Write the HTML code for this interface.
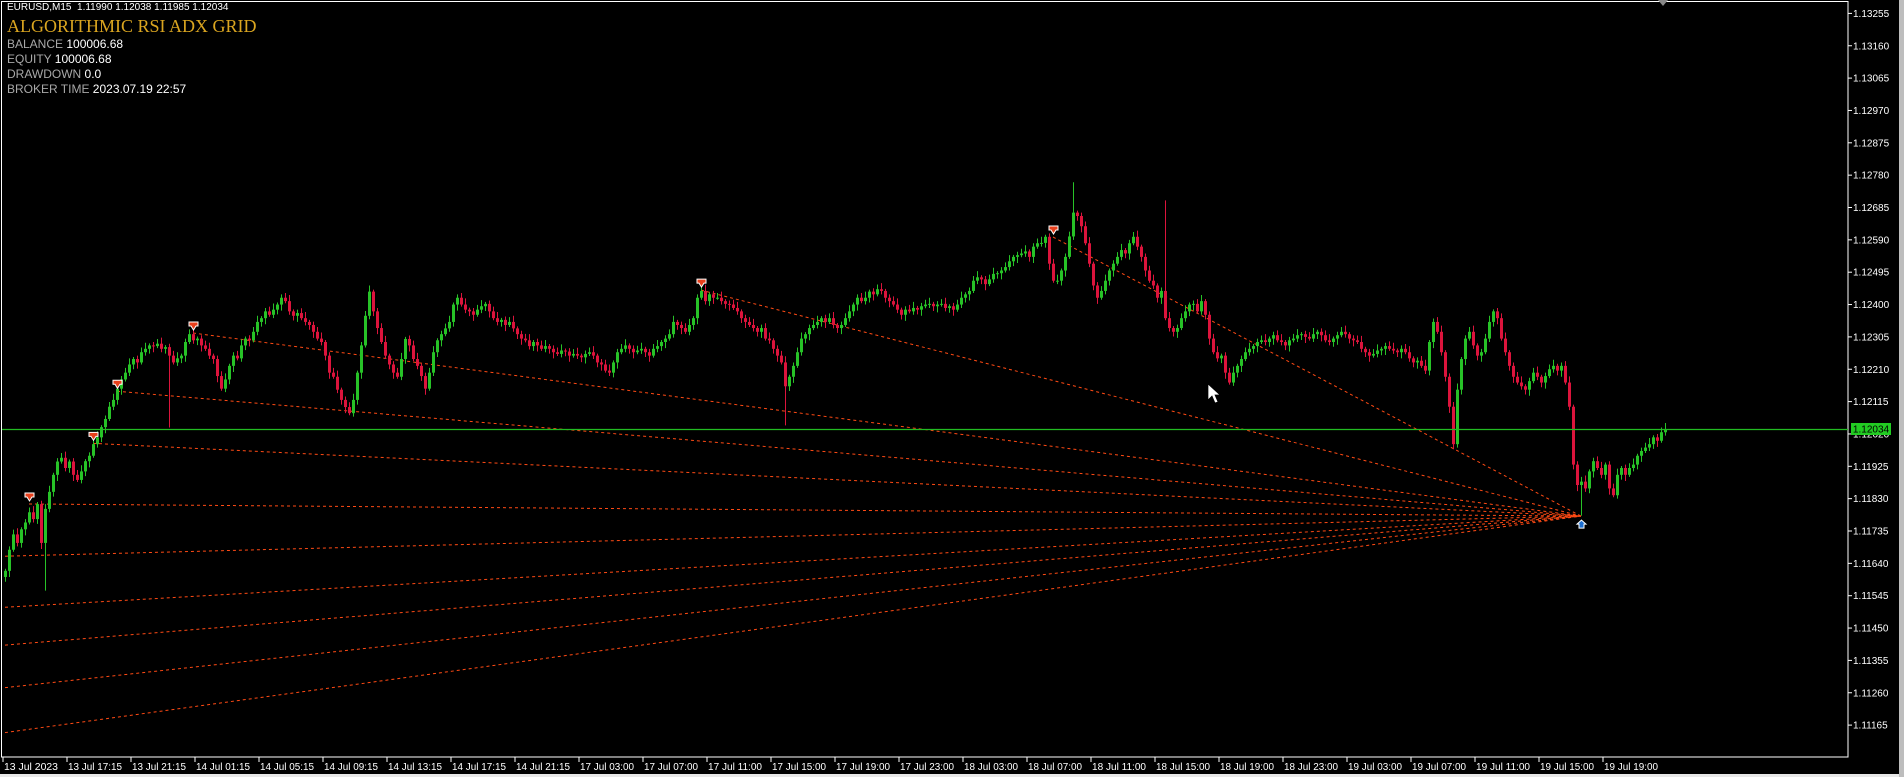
<!DOCTYPE html>
<html><head><meta charset="utf-8"><style>
html,body{margin:0;padding:0;background:#000;}
body{width:1904px;height:777px;overflow:hidden;position:relative;font-family:"Liberation Sans",sans-serif;}
.info{position:absolute;left:7px;font-size:12px;color:#a8a8a8;white-space:nowrap}
.info b{font-weight:normal;color:#fff}
</style></head><body>
<svg id="chart" width="1904" height="777" style="position:absolute;left:0;top:0">
<rect x="0" y="0" width="1904" height="777" fill="#000"/>
<rect x="1899" y="0" width="5" height="777" fill="#bdbdbd"/>
<rect x="0" y="774" width="1899" height="3" fill="#e8e8e8"/>
<rect x="1.5" y="1.5" width="1846.5" height="755.5" fill="none" stroke="#fff" stroke-width="1"/>
<polygon points="1658,0 1668,0 1663,6" fill="#888"/>
<g id="fan"></g>
<g id="candles"></g>
<line x1="2" x2="1848" y1="429.5" y2="429.5" stroke="#22bb22" stroke-width="1.2"/>
<g id="arrows"></g>
<g id="yaxis"></g>
<g id="xaxis"></g>
<rect x="1851" y="423" width="40" height="12" fill="#22cc22"/>
<text x="1871" y="432.5" font-size="10" text-anchor="middle" fill="#000" font-family="Liberation Sans">1.12034</text>
<polygon points="1208,384 1208,400 1212,396 1215,403 1218,402 1215,395 1220,395" fill="#fff" stroke="#000" stroke-width="0.7"/>
</svg>
<div class="info" style="top:2px;font-size:10px;color:#fff">EURUSD,M15&nbsp; 1.11990 1.12038 1.11985 1.12034</div>
<div class="info" style="top:16px;font-family:'Liberation Serif',serif;font-size:18px;color:#daa520">ALGORITHMIC RSI ADX GRID</div>
<div class="info" style="top:37px">BALANCE <b>100006.68</b></div>
<div class="info" style="top:52px">EQUITY <b>100006.68</b></div>
<div class="info" style="top:67px">DRAWDOWN <b>0.0</b></div>
<div class="info" style="top:82px">BROKER TIME <b>2023.07.19 22:57</b></div>
<script>
// closes in points above 1.10000 (e.g. 2034 = 1.12034)
const closes=[1618,1680,1725,1700,1740,1760,1790,1770,1814,1700,1800,1850,1900,1939,1950,1920,1939,1900,1885,1910,1940,1956,1990,2010,2040,2064,2100,2120,2153,2180,2200,2224,2240,2230,2260,2270,2280,2278,2285,2270,2275,2250,2230,2242,2250,2290,2313,2295,2300,2280,2270,2250,2240,2190,2153,2180,2220,2250,2242,2280,2300,2295,2320,2349,2360,2380,2370,2385,2400,2420,2410,2380,2367,2375,2360,2349,2340,2320,2300,2290,2250,2200,2188,2150,2120,2099,2081,2120,2200,2280,2367,2438,2380,2331,2290,2250,2224,2200,2188,2240,2299,2280,2240,2220,2190,2153,2200,2260,2295,2313,2330,2349,2400,2420,2400,2385,2380,2370,2385,2395,2402,2380,2360,2349,2355,2340,2349,2330,2313,2300,2295,2278,2290,2280,2270,2278,2270,2260,2255,2265,2262,2250,2255,2250,2245,2255,2260,2250,2230,2224,2206,2200,2230,2260,2270,2280,2270,2260,2265,2270,2260,2250,2270,2278,2290,2300,2313,2349,2340,2331,2320,2340,2360,2420,2440,2410,2430,2420,2420,2410,2402,2400,2390,2380,2360,2349,2340,2331,2320,2331,2300,2295,2270,2250,2230,2160,2188,2220,2260,2300,2313,2331,2340,2349,2360,2349,2360,2340,2331,2340,2360,2380,2400,2420,2410,2420,2438,2430,2445,2440,2420,2410,2400,2385,2370,2385,2380,2390,2385,2395,2400,2402,2395,2400,2402,2390,2395,2385,2400,2420,2430,2440,2470,2480,2474,2460,2474,2490,2492,2500,2510,2527,2540,2545,2550,2556,2540,2570,2580,2581,2599,2520,2470,2470,2500,2540,2600,2670,2660,2630,2580,2520,2456,2420,2440,2470,2500,2520,2540,2560,2550,2580,2599,2570,2540,2500,2470,2456,2420,2440,2360,2331,2320,2331,2360,2380,2400,2402,2380,2410,2370,2300,2260,2242,2250,2200,2171,2200,2220,2240,2260,2270,2278,2290,2295,2290,2300,2310,2295,2290,2280,2295,2300,2310,2313,2305,2300,2313,2320,2310,2295,2290,2300,2310,2320,2313,2300,2295,2290,2270,2260,2250,2255,2265,2270,2278,2270,2265,2260,2270,2260,2242,2230,2235,2220,2206,2290,2349,2320,2260,2188,2100,1990,2150,2240,2300,2320,2280,2250,2260,2300,2349,2380,2360,2300,2260,2220,2188,2171,2160,2150,2175,2200,2188,2171,2190,2210,2220,2206,2220,2171,2100,1930,1870,1880,1860,1910,1940,1920,1900,1930,1860,1840,1900,1920,1900,1920,1930,1956,1970,1980,1990,2010,2000,2025,2034];
const firstOpen=1600;
const spikeIdx=[10,41,195,267,290,362,394];
const spikeVal=[1560,2039,2045,2759,2706,1975,1780];
const priceTicks=["1.13255","1.13160","1.13065","1.12970","1.12875","1.12780","1.12685","1.12590","1.12495","1.12400","1.12305","1.12210","1.12115","1.12020","1.11925","1.11830","1.11735","1.11640","1.11545","1.11450","1.11355","1.11260","1.11165"];
const timeLabels=["13 Jul 2023","13 Jul 17:15","13 Jul 21:15","14 Jul 01:15","14 Jul 05:15","14 Jul 09:15","14 Jul 13:15","14 Jul 17:15","14 Jul 21:15","17 Jul 03:00","17 Jul 07:00","17 Jul 11:00","17 Jul 15:00","17 Jul 19:00","17 Jul 23:00","18 Jul 03:00","18 Jul 07:00","18 Jul 11:00","18 Jul 15:00","18 Jul 19:00","18 Jul 23:00","19 Jul 03:00","19 Jul 07:00","19 Jul 11:00","19 Jul 15:00","19 Jul 19:00"];
const sellArrowIdx=[6,22,28,47,174,262];
const sellArrowPx=[1832,2010,2163,2334,2460,2616];
const buyArrowIdx=[394];
const buyArrowPx=[1770];
const fanEdgePx=[1661,1511,1400,1275,1143];

const NS="http://www.w3.org/2000/svg";
const Y=p=>13.4+(3255-p)/95*32.35;
const X=i=>5+4*i;
function mk(tag,attrs,parent){const e=document.createElementNS(NS,tag);for(const k in attrs)e.setAttribute(k,attrs[k]);parent.appendChild(e);return e;}

const cg=document.getElementById('candles');
closes.forEach((c,i)=>{
  const o=i===0?firstOpen:closes[i-1];
  let hi=Math.max(o,c)+6+(i%4)*4, lo=Math.min(o,c)-6-((i+2)%4)*4;
  const s=spikeIdx.indexOf(i);
  if(s>=0){if(spikeVal[s]>c)hi=spikeVal[s];else lo=spikeVal[s];}
  const col=c>=o?'#27c227':'#dc143c';
  const x=X(i);
  const w=mk('line',{x1:x+0.5,x2:x+0.5,y1:Y(hi),y2:Y(lo),stroke:col,'stroke-width':1},cg);
  
  
  const top=Y(Math.max(o,c)),bot=Y(Math.min(o,c));
  const b=mk('rect',{x:x-1,y:top,width:3,height:Math.max(1,bot-top),fill:col},cg);
  
  
});

const cx=X(buyArrowIdx[0]), cy=Y(buyArrowPx[0])-3;
const fg=document.getElementById('fan');
sellArrowIdx.forEach((idx,k)=>{
  const l=mk('line',{x1:X(idx),y1:Y(sellArrowPx[k])+6,x2:cx,y2:cy,stroke:'#ff4a14','stroke-width':1,'stroke-dasharray':'3,3'},fg);
  
  
});
fanEdgePx.forEach(p=>{
  const l=mk('line',{x1:5,y1:Y(p),x2:cx,y2:cy,stroke:'#ff4a14','stroke-width':1,'stroke-dasharray':'3,3'},fg);
  
  
});

const ag=document.getElementById('arrows');
sellArrowIdx.forEach((idx,k)=>{
  const x=X(idx),y=Y(sellArrowPx[k]);
  const a=mk('polygon',{points:`${x-4},${y-5} ${x+5},${y-5} ${x+5},${y-1} ${x+3},${y-1} ${x+0.5},${y+3} ${x-2},${y-1} ${x-4},${y-1}`,fill:'#e8401c',stroke:'#fff','stroke-width':1},ag);
  
  
});
buyArrowIdx.forEach((idx,k)=>{
  const x=X(idx),y=Y(buyArrowPx[k]);
  const a=mk('polygon',{points:`${x+0.5},${y+1} ${x+5},${y+5} ${x+3},${y+5} ${x+3},${y+9} ${x-2},${y+9} ${x-2},${y+5} ${x-4},${y+5}`,fill:'#1e6fd0',stroke:'#fff','stroke-width':1},ag);
  
  
});

const yg=document.getElementById('yaxis');
priceTicks.forEach(t=>{
  const p=Math.round((parseFloat(t)-1.1)*100000);
  const y=Y(p);
  const tk=mk('line',{x1:1848,x2:1852,y1:y,y2:y,stroke:'#fff'},yg);
  
  
  const tx=mk('text',{x:1853,y:y+3.5,'font-size':10,fill:'#fff','font-family':'Liberation Sans'},yg);
  tx.textContent=t;
  
  
});
const xg=document.getElementById('xaxis');
timeLabels.forEach((t,k)=>{
  const x=X(k*16)-2;
  const tk=mk('line',{x1:x,x2:x,y1:757,y2:762,stroke:'#fff'},xg);
  
  
  const tx=mk('text',{x:x+1,y:770,'font-size':10,fill:'#fff','font-family':'Liberation Sans',textLength:54,lengthAdjust:'spacingAndGlyphs'},xg);
  tx.textContent=t;
  
  
});
</script>
</body></html>
